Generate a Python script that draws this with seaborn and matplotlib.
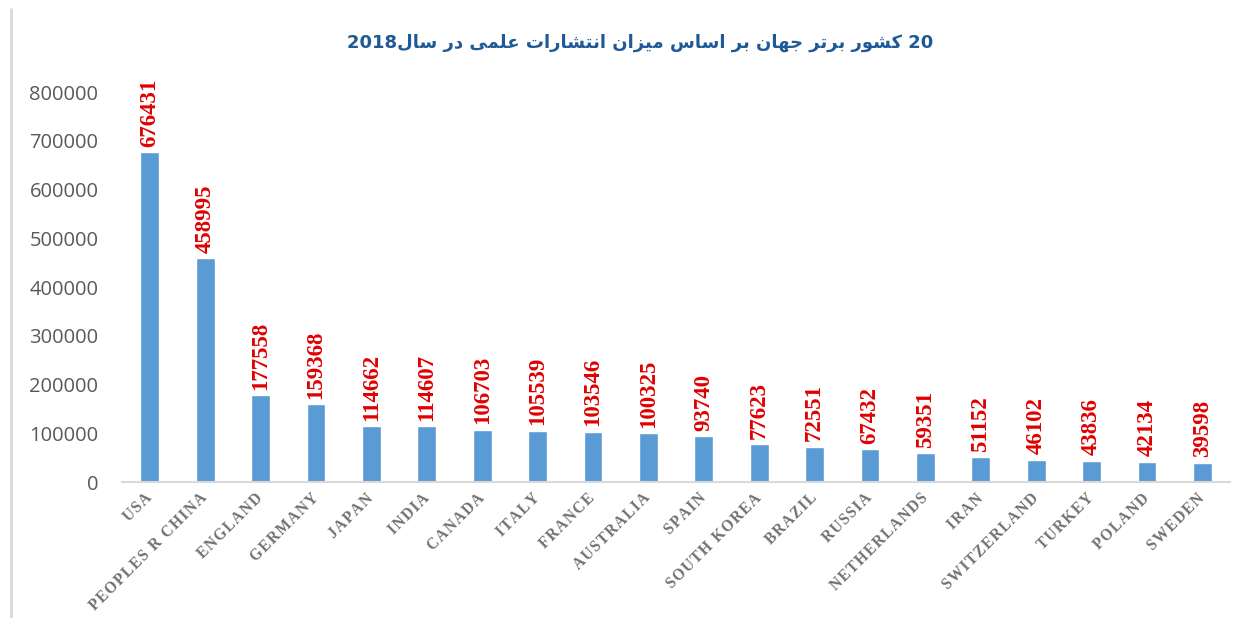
import re
import matplotlib
matplotlib.use('Agg')
import matplotlib.pyplot as plt
from matplotlib.lines import Line2D
import seaborn as sns

# data
countries = ['USA', 'PEOPLES R CHINA', 'ENGLAND', 'GERMANY', 'JAPAN', 'INDIA',
             'CANADA', 'ITALY', 'FRANCE', 'AUSTRALIA', 'SPAIN', 'SOUTH KOREA',
             'BRAZIL', 'RUSSIA', 'NETHERLANDS', 'IRAN', 'SWITZERLAND', 'TURKEY',
             'POLAND', 'SWEDEN']
publications = [676431, 458995, 177558, 159368, 114662, 114607, 106703, 105539,
                103546, 100325, 93740, 77623, 72551, 67432, 59351, 51152, 46102,
                43836, 42134, 39598]
yticks = [0, 100000, 200000, 300000, 400000, 500000, 600000, 700000, 800000]
title = '20 کشور برتر جهان بر اساس میزان انتشارات علمی در سال2018'

# matplotlib does no arabic shaping, so map letters to presentation forms
# (isolated, final, initial, medial); right-joining letters have only two
FORMS = {
    'ا': ('\uFE8D', '\uFE8E'), 'ب': ('\uFE8F', '\uFE90', '\uFE91', '\uFE92'),
    'ت': ('\uFE95', '\uFE96', '\uFE97', '\uFE98'), 'ج': ('\uFE9D', '\uFE9E', '\uFE9F', '\uFEA0'),
    'د': ('\uFEA9', '\uFEAA'), 'ر': ('\uFEAD', '\uFEAE'), 'ز': ('\uFEAF', '\uFEB0'),
    'س': ('\uFEB1', '\uFEB2', '\uFEB3', '\uFEB4'), 'ش': ('\uFEB5', '\uFEB6', '\uFEB7', '\uFEB8'),
    'ع': ('\uFEC9', '\uFECA', '\uFECB', '\uFECC'), 'ل': ('\uFEDD', '\uFEDE', '\uFEDF', '\uFEE0'),
    'م': ('\uFEE1', '\uFEE2', '\uFEE3', '\uFEE4'), 'ن': ('\uFEE5', '\uFEE6', '\uFEE7', '\uFEE8'),
    'ه': ('\uFEE9', '\uFEEA', '\uFEEB', '\uFEEC'), 'و': ('\uFEED', '\uFEEE'),
    'ک': ('\uFB8E', '\uFB8F', '\uFB90', '\uFB91'), 'ی': ('\uFBFC', '\uFBFD', '\uFBFE', '\uFBFF'),
}


def shape_rtl(text):
    out = []
    i = 0
    while i < len(text):
        c = text[i]
        if c not in FORMS:
            out.append(c)
            i += 1
            continue
        prev = text[i - 1] if i > 0 else ''
        joins_prev = prev in FORMS and len(FORMS[prev]) == 4
        nxt = text[i + 1] if i + 1 < len(text) else ''
        if c == 'ل' and nxt == 'ا':
            out.append('\uFEFC' if joins_prev else '\uFEFB')
            i += 2
            continue
        f = FORMS[c]
        joins_next = len(f) == 4 and nxt in FORMS
        if joins_prev and joins_next:
            out.append(f[3])
        elif joins_prev:
            out.append(f[1])
        elif joins_next:
            out.append(f[2])
        else:
            out.append(f[0])
        i += 1
    s = ''.join(out)[::-1]
    return re.sub(r'\d+', lambda m: m.group()[::-1], s)


def spaced(label):
    # the category labels have loose letter spacing
    return '\u200A'.join(label)


sns.set_style('white')

fig = plt.figure(figsize=(12.48, 6.18), dpi=100)
ax = fig.add_axes([0.0978, 0.22, 0.8878, 0.631])

sns.barplot(x=countries, y=publications, color='#5B9BD5', saturation=1,
            width=0.34, ax=ax)

ax.bar_label(ax.containers[0], labels=[str(v) for v in publications],
             rotation=90, padding=4, color='#E00000', fontsize=16.5,
             fontweight='bold', family='Liberation Serif')

ax.set_ylim(0, 800000)
ax.set_xlim(-0.5, len(countries) - 0.5)
ax.set_yticks(yticks)
ax.set_yticklabels([str(t) for t in yticks], fontsize=14.5, color='#595959',
                   family='Open Sans')
ax.tick_params(axis='y', length=0, pad=17)

ax.set_xticks(range(len(countries)))
ax.set_xticklabels([spaced(c) for c in countries], rotation=45, ha='right',
                   va='center', rotation_mode='anchor', fontsize=11.2,
                   fontweight='bold', color='#707070',
                   family=['Liberation Serif', 'DejaVu Serif'])
ax.tick_params(axis='x', length=0, pad=10)
ax.set_xlabel('')
ax.set_ylabel('')

for side in ['top', 'right', 'left']:
    ax.spines[side].set_visible(False)
ax.spines['bottom'].set_color('#D9D9D9')
ax.spines['bottom'].set_linewidth(1.5)

fig.text(0.513, 0.930, shape_rtl(title), ha='center', va='center',
         fontsize=13, fontweight='bold', color='#1F5A96', family='DejaVu Sans')

# chart frame edge on the left
fig.add_artist(Line2D([0.009, 0.009], [0.0, 0.985], color='#D9D9D9', lw=2))

fig.savefig('out.png', dpi=100)
